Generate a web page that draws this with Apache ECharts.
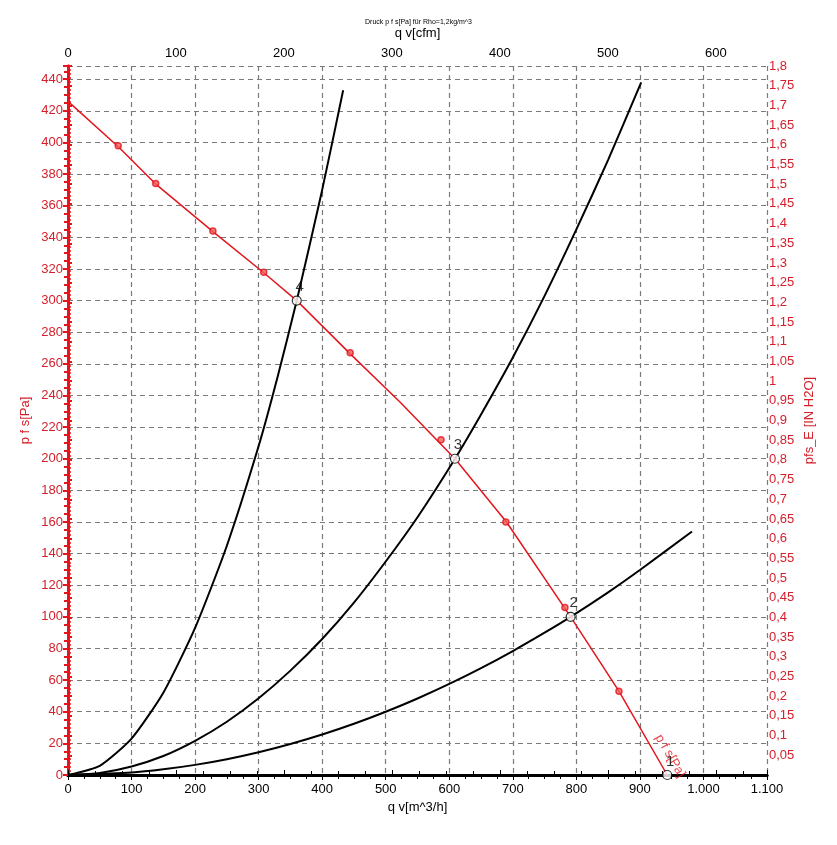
<!DOCTYPE html>
<html>
<head>
<meta charset="utf-8">
<script src="https://cdn.jsdelivr.net/npm/echarts@6/dist/echarts.min.js"></script>
<style>
  html, body { margin: 0; padding: 0; background: #fff; }
  #chart { width: 837px; height: 845px; }
</style>
</head>
<body>
<div id="chart"></div>
<script>
// Kennlinie p f s [Pa] ueber q v [m^3/h]
const fanCurve = [[0, 426], [80, 397], [140, 373], [230, 343], [310, 317], [360, 300], [445, 266], [522, 236], [609, 200], [690, 160], [791, 100], [867, 53], [943, 0]]
// Messpunkte (rote Kreise)
const fanMarkers = [[79, 398], [138, 374], [228, 344], [308, 318], [444, 267], [587, 212], [689, 160], [782, 106], [867, 53]]
// Anlagenkennlinien
const system2 = [[0, 0], [100, 1.6], [150, 3.6], [200, 6.4], [250, 10], [300, 14.4], [350, 19.6], [400, 25.6], [450, 32.4], [500, 40], [550, 48.4], [600, 57.6], [650, 67.6], [700, 78.4], [750, 90], [791, 100], [850, 115.5], [900, 129.6], [982, 154]]
const system3 = [[0, 0], [50, 1.3], [100, 5.4], [150, 12], [200, 21.6], [250, 33.7], [300, 48.5], [350, 66], [400, 86], [450, 109], [500, 135], [550, 163], [609, 200], [650, 228], [700, 264], [750, 303], [800, 345], [850, 389], [902, 438]]
const system4 = [[0, 0], [50, 5.8], [100, 23], [150, 52], [200, 93], [250, 145], [300, 208], [330, 252], [360, 300], [400, 370], [433, 433]]
// Betriebspunkte [q v, p f s, Nr]
const opPoints = [[943, 0, '1'], [791, 100, '2'], [609, 200, '3'], [360, 300, '4']]

const qvMax = 1100
const cfmPerM3h = 0.58858
const paMax = 448.36 // = 1,8 IN H2O
const inH2OMax = 1.8

const RED = '#e3161d'
const RED_TEXT = '#d4202c'
const FONT = 'Liberation Sans, Arial, sans-serif'

function thousands (v) {
  let s = String(Math.round(v))
  if (s.length > 3) s = s.slice(0, s.length - 3) + '.' + s.slice(s.length - 3)
  return s
}

const gridLine = { show: true, lineStyle: { color: '#7a7a7a', type: [5, 4], width: 1.2 } }

function curve (name, data) {
  return {
    name: name,
    type: 'line',
    data: data,
    smooth: 0.2,
    showSymbol: false,
    lineStyle: { color: '#000', width: 2 },
    z: 3
  }
}

let myChart = echarts.init(document.getElementById('chart'))
myChart.setOption({
  animation: false,
  title: {
    text: 'Druck p f s[Pa] für Rho=1,2kg/m^3',
    left: 'center',
    top: 14,
    textStyle: { fontSize: 7, fontWeight: 'normal', color: '#000', fontFamily: FONT }
  },
  grid: { left: 68, right: 70, top: 66, bottom: 70 },
  xAxis: [
    {
      type: 'value',
      position: 'bottom',
      min: 0,
      max: qvMax,
      interval: 100,
      name: 'q v[m^3/h]',
      nameLocation: 'middle',
      nameGap: 26,
      nameMoveOverlap: false,
      nameTextStyle: { fontSize: 13, color: '#000', fontFamily: FONT },
      axisLine: { lineStyle: { color: '#000', width: 3 } },
      axisTick: { show: true, length: 5, lineStyle: { color: '#000' } },
      minorTick: { show: true, splitNumber: 4, length: 4, lineStyle: { color: '#000' } },
      axisLabel: { fontSize: 13, color: '#000', fontFamily: FONT, margin: 8, formatter: thousands },
      splitLine: gridLine
    },
    {
      type: 'value',
      position: 'top',
      min: 0,
      max: qvMax * cfmPerM3h,
      interval: 100,
      name: 'q v[cfm]',
      nameLocation: 'middle',
      nameGap: 26,
      nameMoveOverlap: false,
      nameTextStyle: { fontSize: 13, color: '#000', fontFamily: FONT },
      axisLine: { lineStyle: { color: '#000', width: 3 } },
      axisTick: { show: true, length: 5, lineStyle: { color: '#000' } },
      minorTick: { show: true, splitNumber: 4, length: 4, lineStyle: { color: '#000' } },
      axisLabel: {
        fontSize: 13,
        color: '#000',
        fontFamily: FONT,
        margin: 6,
        formatter: v => (Math.abs(v % 100) < 0.01 ? String(v) : '')
      },
      splitLine: { show: false }
    }
  ],
  yAxis: [
    {
      type: 'value',
      position: 'left',
      min: 0,
      max: paMax,
      interval: 20,
      name: 'p f s[Pa]',
      nameLocation: 'middle',
      nameGap: 36,
      nameMoveOverlap: false,
      nameTextStyle: { fontSize: 13, color: RED_TEXT, fontFamily: FONT },
      axisLine: { lineStyle: { color: RED, width: 3 } },
      axisTick: { show: true, length: 5, lineStyle: { color: RED, width: 2 } },
      minorTick: { show: true, splitNumber: 4, length: 4, lineStyle: { color: RED, width: 2 } },
      axisLabel: {
        fontSize: 13,
        color: RED_TEXT,
        fontFamily: FONT,
        margin: 5,
        formatter: v => (Math.abs(v % 20) < 0.01 ? String(v) : '')
      },
      splitLine: gridLine
    },
    {
      type: 'value',
      position: 'right',
      min: 0,
      max: inH2OMax,
      interval: 0.05,
      name: 'pfs_E [IN H2O]',
      nameLocation: 'middle',
      nameGap: 36,
      nameMoveOverlap: false,
      nameTextStyle: { fontSize: 13, color: RED_TEXT, fontFamily: FONT },
      axisLine: { lineStyle: { color: RED, width: 3 } },
      axisTick: { show: true, length: 4, lineStyle: { color: RED, width: 2 } },
      minorTick: { show: true, splitNumber: 5, length: 3, lineStyle: { color: RED, width: 1.5 } },
      axisLabel: {
        fontSize: 13,
        color: RED_TEXT,
        fontFamily: FONT,
        margin: 2,
        formatter: v => (v < 0.001 ? '' : String(parseFloat(v.toFixed(2))).replace('.', ','))
      },
      splitLine: { show: false }
    }
  ],
  series: [
    curve('Anlage 2', system2),
    curve('Anlage 3', system3),
    curve('Anlage 4', system4),
    {
      name: 'p f s[Pa]',
      type: 'line',
      data: fanCurve,
      showSymbol: false,
      lineStyle: { color: RED, width: 1.5 },
      z: 4
    },
    {
      name: 'Messpunkte',
      type: 'scatter',
      data: fanMarkers,
      symbol: 'circle',
      symbolSize: 6,
      itemStyle: { color: '#f06060', borderColor: RED, borderWidth: 1.5 },
      z: 5
    },
    {
      name: 'Kurvenname',
      type: 'scatter',
      data: [fanCurve[fanCurve.length - 1]],
      symbolSize: 0,
      silent: true,
      label: {
        show: true,
        formatter: 'p f s[Pa]',
        position: 'inside',
        rotate: -60,
        offset: [-15, -12],
        fontSize: 13,
        color: RED,
        fontFamily: FONT
      },
      z: 6
    },
    {
      name: 'Betriebspunkte',
      type: 'scatter',
      data: opPoints,
      symbol: 'circle',
      symbolSize: 9,
      itemStyle: { color: '#fff', borderColor: '#000', borderWidth: 1.2 },
      label: {
        show: true,
        position: 'top',
        distance: 1,
        offset: [3, 0],
        formatter: p => p.value[2],
        fontSize: 15,
        color: '#000',
        fontFamily: FONT
      },
      z: 7
    }
  ]
})
</script>
</body>
</html>
